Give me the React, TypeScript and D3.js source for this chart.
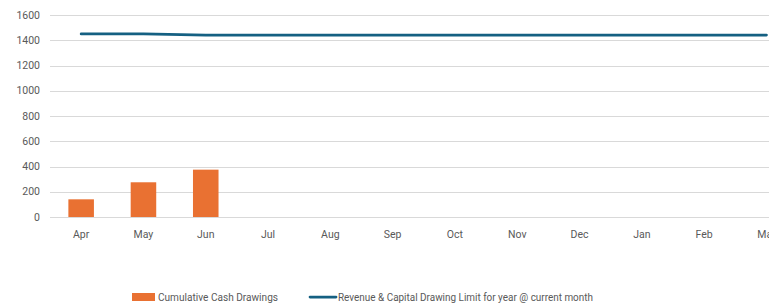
import { useRef, useEffect } from "react";
import * as d3 from "d3";

const months = ["Apr", "May", "Jun", "Jul", "Aug", "Sep", "Oct", "Nov", "Dec", "Jan", "Feb", "Mar"];
const cashDrawings: (number | null)[] = [140, 275, 375, null, null, null, null, null, null, null, null, null];
const drawingLimit = [1450, 1450, 1441, 1441, 1441, 1441, 1441, 1441, 1441, 1441, 1441, 1441];
const yTicks = [0, 200, 400, 600, 800, 1000, 1200, 1400, 1600];

const BAR_COLOR = "#E97132";
const LINE_COLOR = "#156082";
const FONT = "Roboto, 'Liberation Sans', sans-serif";

export default function App() {
  const svgRef = useRef<SVGSVGElement>(null);

  useEffect(() => {
    if (!svgRef.current) return;
    const width = 769;
    const height = 304;
    const margin = { top: 15, left: 50, bottom: 87 };
    const chartW = 62.3 * months.length;
    const chartH = height - margin.top - margin.bottom;

    const svg = d3.select(svgRef.current);
    svg.selectAll("*").remove();
    svg.attr("width", width).attr("height", height);

    const g = svg.append("g").attr("transform", `translate(${margin.left},${margin.top})`);

    const x = d3.scaleBand().domain(months).range([0, chartW]).padding(0);
    const y = d3.scaleLinear().domain([0, 1600]).range([chartH, 0]);

    // Grid lines
    g.append("g")
      .selectAll("line")
      .data(yTicks)
      .join("line")
      .attr("x1", 0)
      .attr("x2", chartW)
      .attr("y1", (d) => Math.round(y(d)) + 0.5)
      .attr("y2", (d) => Math.round(y(d)) + 0.5)
      .attr("stroke", "#D9D9D9")
      .attr("stroke-width", 1);

    // Y labels
    g.append("g")
      .selectAll("text")
      .data(yTicks)
      .join("text")
      .attr("x", -10)
      .attr("y", (d) => y(d))
      .attr("dy", "0.35em")
      .attr("text-anchor", "end")
      .style("font-family", FONT)
      .style("font-size", "10.5px")
      .style("fill", "#595959")
      .text((d) => d);

    // X labels
    g.append("g")
      .selectAll("text")
      .data(months)
      .join("text")
      .attr("x", (d) => (x(d) || 0) + x.bandwidth() / 2)
      .attr("y", chartH + 21)
      .attr("text-anchor", "middle")
      .style("font-family", FONT)
      .style("font-size", "10.5px")
      .style("fill", "#595959")
      .text((d) => d);

    // Bars
    const barW = x.bandwidth() * 0.41;
    g.append("g")
      .selectAll("rect")
      .data(months.map((m, i) => ({ m, v: cashDrawings[i] })).filter((d) => d.v != null))
      .join("rect")
      .attr("x", (d) => (x(d.m) || 0) + (x.bandwidth() - barW) / 2)
      .attr("y", (d) => y(d.v as number))
      .attr("width", barW)
      .attr("height", (d) => chartH - y(d.v as number))
      .attr("fill", BAR_COLOR);

    // Line
    const line = d3
      .line<number>()
      .x((_, i) => (x(months[i]) || 0) + x.bandwidth() / 2)
      .y((d) => y(d));
    g.append("path")
      .datum(drawingLimit)
      .attr("d", line)
      .attr("fill", "none")
      .attr("stroke", LINE_COLOR)
      .attr("stroke-width", 2.75)
      .attr("stroke-linecap", "round");

    // Legend
    const legend = svg.append("g").attr("transform", `translate(0,297)`);
    legend.append("rect").attr("x", 132).attr("y", -4).attr("width", 23).attr("height", 8).attr("fill", BAR_COLOR);
    legend
      .append("text")
      .attr("x", 158)
      .attr("dy", "0.35em")
      .attr("textLength", 120)
      .attr("lengthAdjust", "spacingAndGlyphs")
      .style("font-family", FONT)
      .style("font-size", "10px")
      .style("fill", "#595959")
      .text("Cumulative Cash Drawings");
    legend
      .append("line")
      .attr("x1", 310)
      .attr("x2", 336)
      .attr("y1", 0)
      .attr("y2", 0)
      .attr("stroke", LINE_COLOR)
      .attr("stroke-width", 2.75)
      .attr("stroke-linecap", "round");
    legend
      .append("text")
      .attr("x", 338)
      .attr("dy", "0.35em")
      .attr("textLength", 255)
      .attr("lengthAdjust", "spacingAndGlyphs")
      .style("font-family", FONT)
      .style("font-size", "10px")
      .style("fill", "#595959")
      .text("Revenue & Capital Drawing Limit for year @ current month");
  }, []);

  return (
    <div style={{ position: "absolute", left: 0, top: 0, width: 769, height: 304, overflow: "hidden", background: "#fff" }}>
      <svg ref={svgRef} style={{ display: "block" }} />
    </div>
  );
}
